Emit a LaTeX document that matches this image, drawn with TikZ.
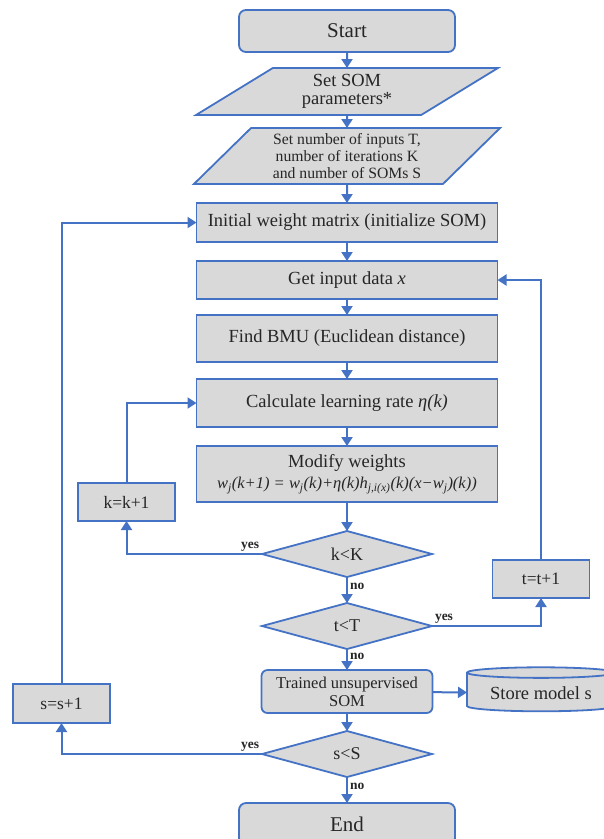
\documentclass[tikz,border=0pt]{standalone}
\usepackage{fontspec}
\setmainfont{Liberation Serif}
\usetikzlibrary{shapes.geometric, arrows.meta, positioning}

\definecolor{somblue}{RGB}{68,114,196}
\definecolor{somgray}{RGB}{217,217,217}
\definecolor{somtext}{RGB}{38,38,38}

\tikzset{
  base/.style={draw=somblue, fill=somgray, line width=1.8pt, text=somtext, inner sep=2pt, outer sep=0pt, align=center},
  terminal/.style={base, rectangle, rounded corners=7pt, minimum width=216pt, minimum height=42pt, font=\fontsize{21}{24}\selectfont},
  iobox/.style={base, trapezium, trapezium stretches=true, trapezium right angle=180-#1, trapezium left angle=#1},
  procbox/.style={base, rectangle, minimum width=301pt, font=\fontsize{18.5}{21}\selectfont},
  smallbox/.style={base, rectangle, minimum width=97pt, minimum height=38pt, font=\fontsize{17.5}{20}\selectfont},
  decision/.style={base, diamond, aspect=3.7, inner sep=0pt, minimum width=170pt, minimum height=46pt, font=\fontsize{18}{20}\selectfont},
  storage/.style={base, cylinder, shape border rotate=90, aspect=0.1, minimum width=148pt, minimum height=44pt, font=\fontsize{18.5}{21}\selectfont},
  arr/.style={draw=somblue, line width=2pt, -{Triangle[width=11pt,length=9pt]}},
  lbl/.style={font=\bfseries\fontsize{13.5}{15}\selectfont, text=somtext, inner sep=2pt}
}

\begin{document}
\begin{tikzpicture}[x=1pt, y=-1pt]
  \useasboundingbox (0,0) rectangle (604,839);

  % main column
  \node[terminal] (start) at (347,31) {Start};
  \node[iobox=38, minimum width=302pt, minimum height=47pt, font=\fontsize{18.5}{18}\selectfont]
    (param) [below=16pt of start] {Set SOM\\parameters*};
  \node[iobox=47, minimum width=307pt, minimum height=56pt, font=\fontsize{15.7}{16.7}\selectfont]
    (numin) [below=13pt of param] {Set number of inputs T,\\number of iterations K\\and number of SOMs S};
  \node[procbox, minimum height=39pt] (init) [below=19pt of numin] {Initial weight matrix (initialize SOM)};
  \node[procbox, minimum height=38pt] (getx) [below=19pt of init] {Get input data \textit{x}};
  \node[procbox, minimum height=47pt] (bmu) [below=16pt of getx] {Find BMU (Euclidean distance)};
  \node[procbox, minimum height=48pt] (rate) [below=17pt of bmu] {Calculate learning rate \textit{η(k)}};
  \node[procbox, minimum height=56pt] (modw) [below=19pt of rate]
    {Modify weights\\{\fontsize{16.5}{18}\selectfont\textit{w\textsubscript{j}(k+1) = w\textsubscript{j}(k)+η(k)h\textsubscript{j,i(x)}(k)(x−w\textsubscript{j})(k))}}};
  \node[decision] (kK) [below=29pt of modw] {k<K};
  \node[decision] (tT) [below=26pt of kK] {t<T};
  \node[base, rectangle, rounded corners=6pt, minimum width=171pt, minimum height=43pt, font=\fontsize{16.5}{18}\selectfont]
    (trained) [below=21pt of tT] {Trained unsupervised\\SOM};
  \node[decision] (sS) [below=18pt of trained] {s<S};
  \node[terminal] (end) [below=26pt of sS] {End};

  % side nodes
  \node[smallbox] (kinc) at (126.5,502) {k=k+1};
  \node[smallbox] (tinc) at (541,579) {t=t+1};
  \node[smallbox, minimum height=39pt] (sinc) at (61.5,703.5) {s=s+1};
  \node[storage] (store) at (541,693) {Store model s};

  % flow
  \draw[arr] (start) -- (param);
  \draw[arr] (param) -- (numin);
  \draw[arr] (numin) -- (init);
  \draw[arr] (init) -- (getx);
  \draw[arr] (getx) -- (bmu);
  \draw[arr] (bmu) -- (rate);
  \draw[arr] (rate) -- (modw);
  \draw[arr] (modw) -- (kK);
  \draw[arr] (kK) -- node[lbl, right, pos=0.35] {no} (tT);
  \draw[arr] (tT) -- node[lbl, right, pos=0.35] {no} (trained);
  \draw[arr] (trained) -- (sS);
  \draw[arr] (sS) -- node[lbl, right, pos=0.35] {no} (end);
  \draw[arr] (trained) -- (store);

  % loops
  \draw[arr] (kK.west) -| node[lbl, above left, pos=0] {yes} (kinc.south);
  \draw[arr] (kinc.north) |- (rate.west);
  \draw[arr] (tT.east) -| node[lbl, above right, pos=0] {yes} (tinc.south);
  \draw[arr] (tinc.north) |- (getx.east);
  \draw[arr] (sS.west) -| node[lbl, above left, pos=0] {yes} (sinc.south);
  \draw[arr] (sinc.north) |- (init.west);
\end{tikzpicture}
\end{document}
